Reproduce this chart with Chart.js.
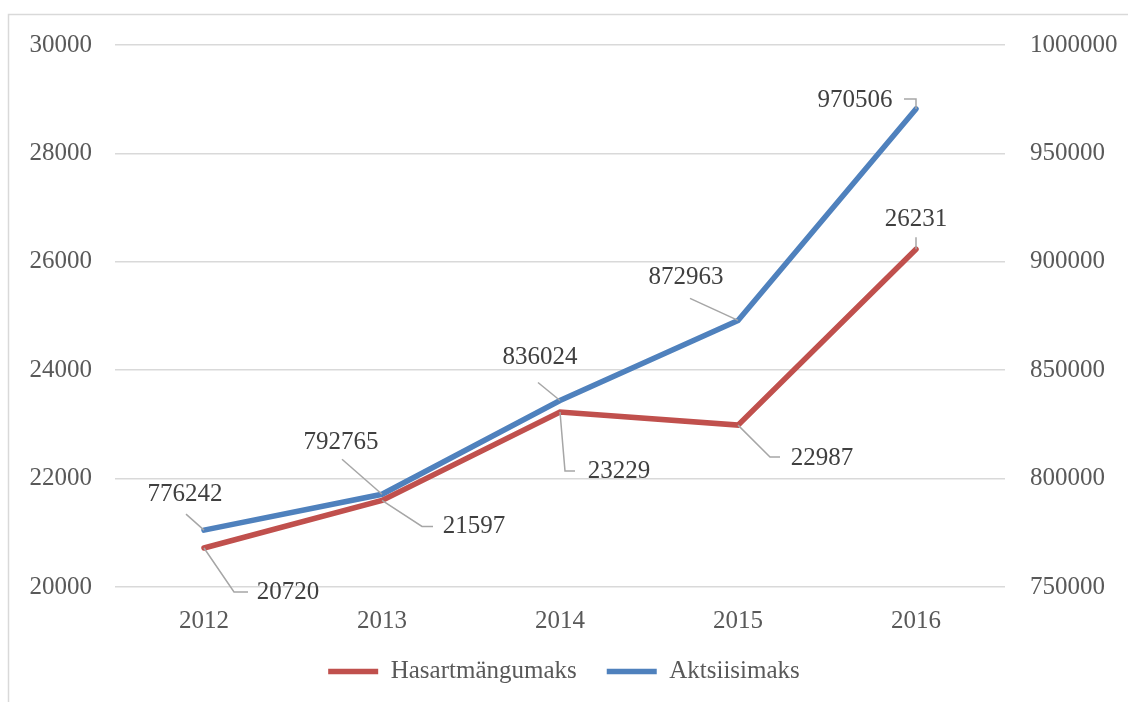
<!DOCTYPE html>
<html>
<head>
<meta charset="utf-8">
<script src="https://cdn.jsdelivr.net/npm/chart.js@4"></script>
<style>
  html, body { margin: 0; padding: 0; background: #fff; }
  #wrap { position: relative; width: 1128px; height: 702px; }
</style>
</head>
<body>
<div id="wrap"><canvas id="chart" width="1128" height="702"></canvas></div>
<script>
// --- Datos ---
const years = ['2012', '2013', '2014', '2015', '2016'];
const hasartmangumaks = [20720, 21597, 23229, 22987, 26231];
const aktsiisimaks = [776242, 792765, 836024, 872963, 970506];
const leftTicks = [20000, 22000, 24000, 26000, 28000, 30000];
const rightTicks = [750000, 800000, 850000, 900000, 950000, 1000000];

// --- Estilo ---
const RED = '#c0504d';
const BLUE = '#4f81bd';
const FONT = 'Liberation Serif, "Times New Roman", serif';
const FSIZE = 25;

// posicion de etiquetas (offset en px desde el punto) + linea guia
const labelPos = [
  [ // Hasartmängumaks
    { dx: 84, dy: 44, lead: [[30, 44], [44, 44]] },
    { dx: 92, dy: 26, lead: [[40, 26], [51, 26]] },
    { dx: 59, dy: 59, lead: [[5, 59], [15, 59]] },
    { dx: 84, dy: 33, lead: [[32, 32], [42, 32]] },
    { dx: 0, dy: -30, lead: [[0, -12]] }
  ],
  [ // Aktsiisimaks
    { dx: -19, dy: -36, lead: [[-18, -16]] },
    { dx: -41, dy: -52, lead: [[-40, -35]] },
    { dx: -20, dy: -43, lead: [[-22, -18]] },
    { dx: -52, dy: -43, lead: [[-48, -22]] },
    { dx: -61, dy: -9, lead: [[0, -10], [-12, -10]] }
  ]
];

// borde del grafico (estilo Excel)
const frame = {
  id: 'frame',
  beforeDraw(c) {
    const ctx = c.ctx;
    ctx.save();
    ctx.strokeStyle = '#d9d9d9';
    ctx.lineWidth = 1.5;
    ctx.beginPath();
    ctx.moveTo(8.5, 702);
    ctx.lineTo(8.5, 14.5);
    ctx.lineTo(1128, 14.5);
    ctx.stroke();
    ctx.restore();
  }
};

// etiquetas de datos con lineas guia
const dataLabels = {
  id: 'dataLabels',
  afterDatasetsDraw(c) {
    const ctx = c.ctx;
    ctx.save();
    c.data.datasets.forEach((ds, di) => {
      const meta = c.getDatasetMeta(di);
      meta.data.forEach((pt, i) => {
        const p = labelPos[di][i];
        ctx.strokeStyle = '#a6a6a6';
        ctx.lineWidth = 1.5;
        ctx.beginPath();
        ctx.moveTo(pt.x, pt.y);
        p.lead.forEach(([lx, ly]) => ctx.lineTo(pt.x + lx, pt.y + ly));
        ctx.stroke();
        ctx.fillStyle = '#404040';
        ctx.font = `${FSIZE}px ${FONT}`;
        ctx.textAlign = 'center';
        ctx.textBaseline = 'middle';
        ctx.fillText(String(ds.data[i]), pt.x + p.dx, pt.y + p.dy);
      });
    });
    ctx.restore();
  }
};

new Chart(document.getElementById('chart'), {
  type: 'line',
  data: {
    labels: years,
    datasets: [
      {
        label: 'Hasartmängumaks',
        data: hasartmangumaks,
        yAxisID: 'y',
        borderColor: RED,
        backgroundColor: RED,
        borderWidth: 5.5,
        borderCapStyle: 'round',
        pointRadius: 0,
        tension: 0
      },
      {
        label: 'Aktsiisimaks',
        data: aktsiisimaks,
        yAxisID: 'y1',
        borderColor: BLUE,
        backgroundColor: BLUE,
        borderWidth: 5.5,
        borderCapStyle: 'round',
        pointRadius: 0,
        tension: 0
      }
    ]
  },
  options: {
    responsive: false,
    animation: false,
    layout: { padding: { top: 45, left: 0, right: 0, bottom: 8 } },
    font: { family: FONT, size: FSIZE },
    scales: {
      x: {
        offset: true,
        grid: { display: false, drawTicks: false },
        border: { display: false },
        ticks: { color: '#595959', padding: 19, font: { family: FONT, size: FSIZE } },
        afterFit: s => { s.height = 42; }
      },
      y: {
        position: 'left',
        min: 20000, max: 30000,
        afterBuildTicks: s => { s.ticks = leftTicks.map(v => ({ value: v })); },
        grid: { color: '#d9d9d9', lineWidth: 1.5, drawTicks: false },
        border: { display: false },
        ticks: { color: '#595959', padding: 23, font: { family: FONT, size: FSIZE }, callback: v => String(v) },
        afterFit: s => { s.width = 115; }
      },
      y1: {
        position: 'right',
        min: 750000, max: 1000000,
        afterBuildTicks: s => { s.ticks = rightTicks.map(v => ({ value: v })); },
        grid: { display: false, drawTicks: false },
        border: { display: false },
        ticks: { color: '#595959', padding: 25, font: { family: FONT, size: FSIZE }, callback: v => String(v) },
        afterFit: s => { s.width = 123; }
      }
    },
    plugins: {
      legend: {
        position: 'bottom',
        labels: {
          usePointStyle: true,
          pointStyle: 'line',
          pointStyleWidth: 50,
          padding: 30,
          color: '#595959',
          font: { family: FONT, size: FSIZE }
        }
      },
      tooltip: { enabled: false }
    }
  },
  plugins: [frame, dataLabels]
});
</script>
</body>
</html>
